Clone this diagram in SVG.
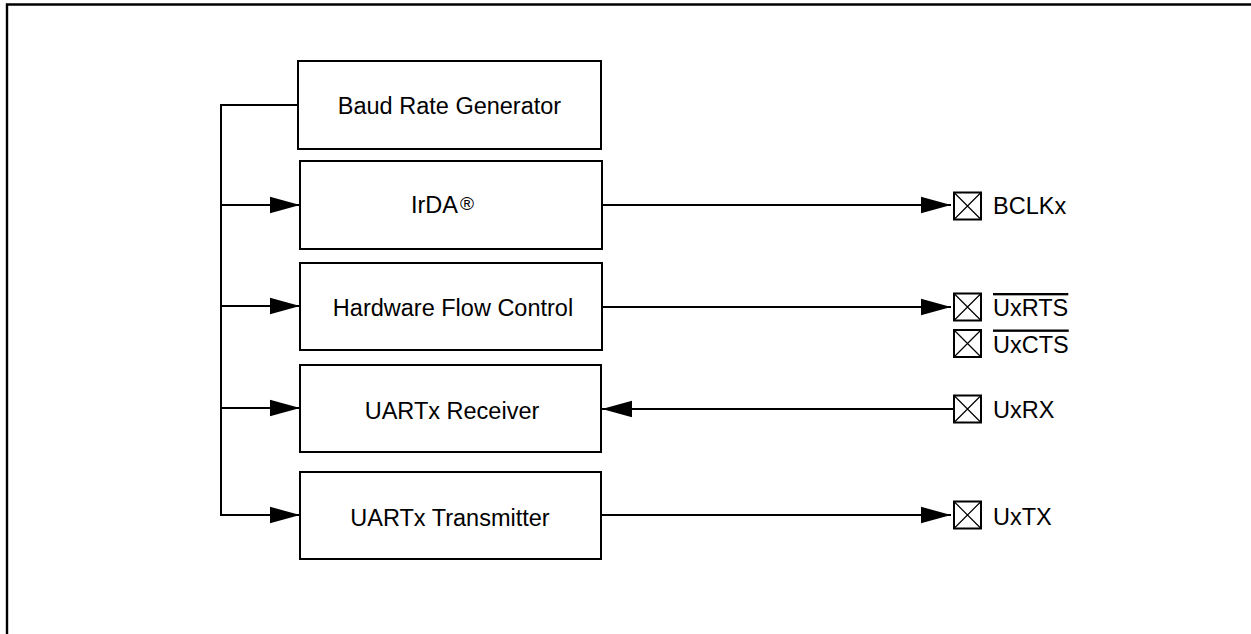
<svg xmlns="http://www.w3.org/2000/svg" width="1251" height="634" viewBox="0 0 1251 634">
<style>
.box{fill:#fff;stroke:#000;stroke-width:2}
.lbl{font-family:"Liberation Sans",Arial,sans-serif;font-size:23.5px;fill:#000}
.mid{text-anchor:middle}
.wire{fill:none;stroke:#000;stroke-width:2}
.pin{fill:#fff;stroke:#000;stroke-width:2}
.ov{text-decoration:overline}
</style>
<defs>
<marker id="ah" markerUnits="userSpaceOnUse" markerWidth="31" markerHeight="18" refX="30" refY="9" orient="auto" viewBox="0 0 31 18">
<path d="M0,0.8 L30,9 L0,17.2 Z" fill="#000"/>
</marker>
<g id="pinsym">
<rect class="pin" x="0" y="0" width="27" height="27"/>
<path d="M0,0 L27,27 M27,0 L0,27" stroke="#000" stroke-width="1.2"/>
</g>
</defs>
<rect width="1251" height="634" fill="#fff"/>
<path d="M7,634 V4.5 H1251" fill="none" stroke="#000" stroke-width="2.4"/>

<g id="connectors">
<path class="wire" d="M298,105 H221 V515 H300" marker-end="url(#ah)"/>
<path class="wire" d="M221,205 H300" marker-end="url(#ah)"/>
<path class="wire" d="M221,306 H300" marker-end="url(#ah)"/>
<path class="wire" d="M221,408 H300" marker-end="url(#ah)"/>
<path class="wire" d="M602,205 H951" marker-end="url(#ah)"/>
<path class="wire" d="M602,307 H951" marker-end="url(#ah)"/>
<path class="wire" d="M954,409 H602" marker-end="url(#ah)"/>
<path class="wire" d="M601,515 H951" marker-end="url(#ah)"/>
</g>

<g id="baud">
<rect class="box" x="298" y="61" width="303" height="88"/>
<text class="lbl mid" x="449.5" y="113.5">Baud Rate Generator</text>
</g>
<g id="irda">
<rect class="box" x="300" y="161" width="302" height="88"/>
<text class="lbl" x="411" y="212.7">IrDA<tspan font-size="19" dx="2" dy="-3">®</tspan></text>
</g>
<g id="hfc">
<rect class="box" x="300" y="263" width="302" height="87"/>
<text class="lbl mid" x="453" y="316">Hardware Flow Control</text>
</g>
<g id="rx">
<rect class="box" x="300" y="365" width="301" height="87"/>
<text class="lbl mid" x="452" y="419">UARTx Receiver</text>
</g>
<g id="tx">
<rect class="box" x="300" y="472" width="301" height="87"/>
<text class="lbl mid" x="450" y="525.5">UARTx Transmitter</text>
</g>

<g id="pin-bclkx">
<use href="#pinsym" x="954" y="192.5"/>
<text class="lbl" x="993" y="214">BCLKx</text>
</g>
<g id="pin-uxrts">
<use href="#pinsym" x="954" y="293.5"/>
<text class="lbl ov" x="993" y="316">UxRTS</text>
</g>
<g id="pin-uxcts">
<use href="#pinsym" x="954" y="330"/>
<text class="lbl ov" x="993" y="352.5">UxCTS</text>
</g>
<g id="pin-uxrx">
<use href="#pinsym" x="954" y="395.5"/>
<text class="lbl" x="993" y="418">UxRX</text>
</g>
<g id="pin-uxtx">
<use href="#pinsym" x="954" y="501.5"/>
<text class="lbl" x="993" y="524.5">UxTX</text>
</g>
</svg>
